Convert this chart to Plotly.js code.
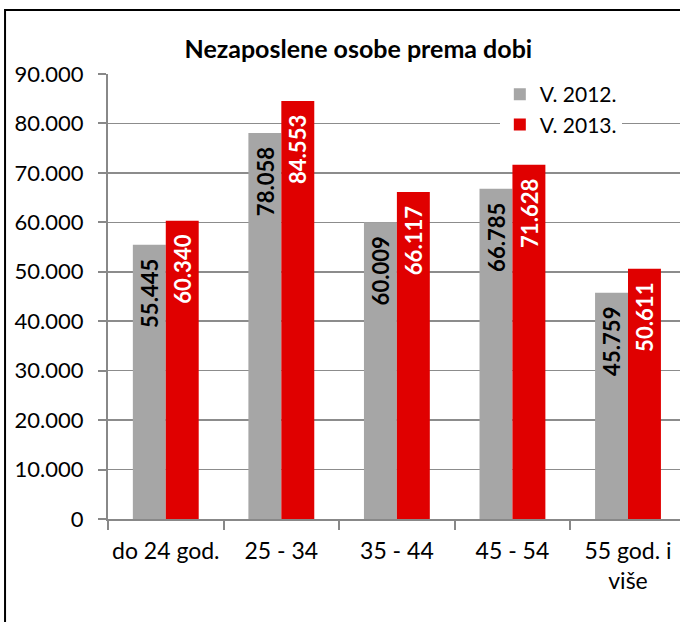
<!DOCTYPE html>
<html>
<head>
<meta charset="utf-8">
<script src="https://cdn.plot.ly/plotly-3.0.1.min.js"></script>
<style>html,body{margin:0;padding:0;background:#fff;}#chart{width:680px;height:622px;}</style>
</head>
<body>
<div id="chart"></div>
<script>
const categories = ["do 24 god.", "25 - 34", "35 - 44", "45 - 54", "55 god. i<br>više"];
const values2012 = [55445, 78058, 60009, 66785, 45759];
const values2013 = [60340, 84553, 66117, 71628, 50611];
const seriesNames = ["V. 2012.", "V. 2013."];
const yTicks = [0, 10000, 20000, 30000, 40000, 50000, 60000, 70000, 80000, 90000];

const FONT = "Lato, 'Open Sans', sans-serif";
function fmt(v){ return String(v).replace(/\B(?=(\d{3})+(?!\d))/g, "."); }
const PAD = "\u00a0\u00a0";

const traces = [
  {type:"bar", name:seriesNames[0], x:categories, y:values2012,
   marker:{color:"#a6a6a6"}, text:values2012.map(v => fmt(v) + PAD), textposition:"inside",
   insidetextanchor:"end", textangle:-90,
   textfont:{family:FONT, size:23, color:"#000", weight:"bold"}, hoverinfo:"none"},
  {type:"bar", name:seriesNames[1], x:categories, y:values2013,
   marker:{color:"#e00000"}, text:values2013.map(v => fmt(v) + PAD), textposition:"inside",
   insidetextanchor:"end", textangle:-90,
   textfont:{family:FONT, size:23, color:"#fff", weight:"bold"}, hoverinfo:"none"}
];

const layout = {
  width:680, height:622,
  margin:{l:108, r:0, t:74, b:103, pad:0},
  paper_bgcolor:"#fff", plot_bgcolor:"#fff",
  separators:",.",
  font:{family:FONT, size:22, color:"#000"},
  title:{text:"<b>Nezaposlene osobe prema dobi</b>", font:{family:FONT, size:25, color:"#000"},
         x:0.527, xanchor:"center", y:0.921, yanchor:"middle"},
  barmode:"group", bargap:0.43, bargroupgap:0,
  showlegend:true,
  legend:{x:0.685, xanchor:"left", y:1.0, yanchor:"top", bgcolor:"#fff",
          font:{family:FONT, size:21, color:"#000"}, tracegroupgap:0, itemwidth:30},
  xaxis:{type:"category", range:[-0.5, 4.45], tickson:"boundaries", ticks:"outside",
         ticklen:9, tickcolor:"#888", tickwidth:2, showline:true, linecolor:"#888", linewidth:2,
         tickangle:0, ticklabelstandoff:10,
         showgrid:false, tickfont:{family:FONT, size:23, color:"#000"}, fixedrange:true},
  yaxis:{range:[0, 90000], tickvals:yTicks, ticktext:yTicks.map(fmt), ticks:"outside",
         ticklen:8, tickcolor:"#888", tickwidth:2, showline:true, linecolor:"#888", linewidth:2,
         ticklabelstandoff:10,
         showgrid:true, gridcolor:"#8c8c8c", gridwidth:1.5, zeroline:false,
         tickfont:{family:FONT, size:22, color:"#000"}, fixedrange:true},
  shapes:[{type:"rect", xref:"paper", yref:"paper", x0:-0.18, x1:1.2, y0:-0.3, y1:1.1438,
           line:{color:"#000", width:2}, fillcolor:"rgba(0,0,0,0)", layer:"above"}]
};

Plotly.newPlot("chart", traces, layout, {displayModeBar:false, staticPlot:true});
</script>
</body>
</html>
